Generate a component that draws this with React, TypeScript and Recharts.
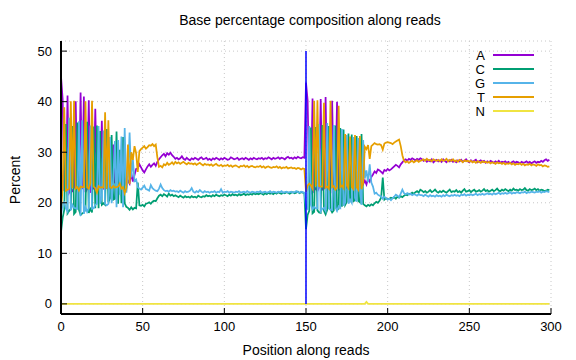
import React from 'react';
import { LineChart, Line, XAxis, YAxis, CartesianGrid, ReferenceLine, Legend } from 'recharts';

// Percent of each base per cycle. Read 1 = cycles 0-149, read 2 = 150-299.
const A_READ1 = [
  45.0, 40.5, 22.4, 23.1, 41.2, 22.0, 22.6, 22.3, 23.0, 40.1,
  22.2, 22.9, 41.8, 22.7, 41.0, 22.1, 22.8, 40.3, 22.0, 22.9,
  22.8, 38.6, 22.9, 22.6, 23.0, 36.2, 22.8, 22.7, 23.1, 23.8,
  23.0, 23.8, 31.5, 24.0, 23.7, 24.6, 24.1, 24.2, 24.8, 23.4,
  25.3, 24.4, 23.8, 25.9, 24.2, 25.5, 26.7, 26.8, 27.6, 27.0,
  26.4, 26.0, 26.6, 27.2, 27.6, 27.1, 27.5, 27.8, 27.3, 28.1,
  28.6, 29.0, 29.4, 29.7, 29.2, 29.8, 29.5, 29.9, 29.4, 29.1,
  28.7, 28.9, 28.6, 28.8, 29.2, 28.7, 28.5, 28.9, 28.6, 28.4,
  28.8, 28.6, 28.9, 28.7, 28.5, 28.8, 29.0, 28.6, 28.7, 28.9,
  28.5, 28.7, 28.4, 28.8, 28.6, 28.9, 28.7, 28.5, 28.8, 28.6,
  28.9, 28.7, 28.5, 28.6, 29.0, 28.8, 28.6, 28.7, 28.9, 28.5,
  28.7, 28.8, 28.6, 28.9, 28.7, 28.5, 28.8, 28.6, 28.9, 28.7,
  28.6, 28.8, 28.7, 28.9, 28.6, 28.8, 28.7, 29.0, 28.8, 28.6,
  28.9, 28.7, 28.8, 29.0, 28.7, 28.9, 28.8, 28.6, 28.9, 29.1,
  28.8, 28.9, 28.7, 29.0, 28.8, 29.1, 28.9, 28.8, 29.0, 28.9,
];
const A_READ2 = [
  43.8, 40.2, 22.6, 22.1, 40.6, 22.4, 22.9, 22.3, 23.0, 40.5,
  22.6, 22.8, 40.9, 22.4, 23.1, 22.5, 40.2, 22.8, 23.0, 40.0,
  22.7, 23.1, 22.8, 23.2, 23.4, 23.0, 23.6, 23.9, 23.4, 24.0,
  23.8, 23.5, 24.2, 23.3, 24.1, 23.7, 24.4, 23.6, 24.8, 24.2,
  25.1, 25.6, 26.2, 25.9, 26.6, 26.4, 26.1, 25.8, 26.5, 26.3,
  26.7, 26.4, 26.6, 26.9, 27.2, 27.5, 27.3, 27.0, 27.6, 28.0,
  28.4, 28.6, 28.3, 28.7, 28.5, 28.8, 28.6, 28.4, 28.7, 28.5,
  28.8, 28.6, 28.3, 28.5, 28.1, 28.4, 28.2, 28.6, 28.0, 28.3,
  28.5, 28.2, 28.4, 28.1, 28.6, 28.3, 28.0, 28.4, 28.2, 28.5,
  28.1, 28.3, 28.0, 28.4, 28.2, 28.5, 28.1, 28.3, 28.6, 28.2,
  28.0, 28.4, 28.1, 28.3, 28.5, 28.0, 28.2, 28.4, 28.1, 28.3,
  27.9, 28.2, 28.0, 28.3, 28.1, 27.9, 28.2, 28.0, 28.3, 27.9,
  28.1, 28.0, 28.2, 27.9, 28.1, 27.8, 28.0, 28.2, 27.9, 28.1,
  28.0, 27.8, 28.1, 27.9, 28.0, 28.2, 27.9, 28.1, 27.8, 28.0,
  28.2, 27.9, 28.1, 28.0, 28.3, 28.1, 28.4, 28.6, 28.3, 28.5,
];

const C_READ1 = [
  14.2, 17.0, 18.6, 35.6, 17.9, 18.4, 18.8, 35.2, 17.8, 18.2,
  35.9, 18.6, 17.6, 17.9, 18.1, 18.7, 36.0, 18.0, 18.8, 18.1,
  35.1, 18.9, 35.3, 18.9, 34.2, 19.6, 19.9, 19.6, 34.6, 20.1,
  20.9, 33.4, 20.6, 20.8, 34.1, 19.8, 30.5, 19.9, 33.0, 19.9,
  19.2, 19.0, 18.6, 19.1, 18.7, 19.0, 18.9, 24.0, 19.5, 19.4,
  19.6, 19.3, 19.8, 19.9, 20.1, 19.8, 20.2, 20.4, 20.3, 20.9,
  21.4, 21.6, 21.3, 21.7, 21.5, 21.2, 21.8, 21.4, 21.6, 21.3,
  21.5, 21.3, 21.1, 21.4, 21.2, 21.0, 21.3, 21.1, 21.2, 21.0,
  21.3, 21.1, 21.2, 21.0, 21.4, 21.2, 21.1, 21.3, 21.2, 21.5,
  21.3, 21.4, 21.2, 21.5, 21.3, 21.6, 21.4, 21.3, 21.5, 21.4,
  21.6, 21.5, 21.3, 21.6, 21.4, 21.7, 21.5, 21.6, 21.4, 21.7,
  21.5, 21.6, 21.8, 21.5, 21.7, 21.6, 21.8, 21.6, 21.9, 21.7,
  21.8, 21.7, 21.9, 21.8, 21.6, 21.9, 21.7, 22.0, 21.8, 21.9,
  21.7, 22.0, 21.8, 22.1, 21.9, 21.8, 22.0, 21.9, 22.1, 22.0,
  21.8, 22.0, 22.1, 21.9, 22.0, 22.2, 21.9, 22.1, 22.0, 21.9,
];
const C_READ2 = [
  14.8, 17.6, 18.4, 34.9, 17.9, 18.2, 35.0, 18.5, 18.1, 18.0,
  35.4, 18.4, 17.7, 18.6, 35.2, 18.7, 18.1, 18.5, 35.3, 18.6,
  18.8, 34.8, 19.2, 34.5, 19.6, 20.2, 33.7, 20.1, 33.5, 20.3,
  20.5, 33.2, 20.4, 20.1, 33.6, 19.8, 19.5, 19.3, 19.6, 19.4,
  19.7, 19.5, 19.9, 20.2, 20.0, 20.4, 21.0, 25.0, 20.6, 20.9,
  20.7, 20.8, 21.0, 20.9, 21.1, 20.8, 21.2, 21.0, 21.3, 21.1,
  21.4, 21.6, 21.5, 21.8, 21.7, 22.0, 21.8, 22.1, 22.3, 22.0,
  22.6, 22.4, 22.1, 22.3, 22.0, 22.2, 22.5, 22.1, 22.3, 22.6,
  22.2, 22.0, 22.3, 22.1, 22.4, 22.2, 22.0, 22.3, 22.6, 22.1,
  22.3, 22.2, 22.5, 22.1, 22.3, 22.0, 22.4, 22.7, 22.2, 22.3,
  22.5, 22.1, 22.4, 22.6, 22.2, 22.3, 22.5, 22.2, 22.4, 22.7,
  22.3, 22.5, 22.2, 22.4, 22.6, 22.3, 22.5, 22.8, 22.4, 22.3,
  22.6, 22.4, 22.7, 22.5, 22.3, 22.6, 22.4, 22.8, 22.5, 22.6,
  22.4, 22.7, 22.5, 22.6, 22.9, 22.5, 22.4, 22.7, 22.5, 22.6,
  22.8, 22.5, 22.7, 22.4, 22.6, 22.5, 22.3, 22.4, 22.6, 22.5,
];

const G_READ1 = [
  17.5, 19.8, 20.1, 18.9, 18.3, 36.8, 18.5, 19.6, 19.0, 18.9,
  18.8, 36.1, 17.4, 36.3, 17.8, 19.1, 18.2, 18.9, 35.3, 18.8,
  18.9, 19.6, 19.8, 35.2, 19.8, 21.1, 34.3, 19.8, 19.5, 19.8,
  33.0, 19.9, 24.6, 32.2, 19.1, 32.4, 21.6, 33.1, 19.1, 34.8,
  22.0, 25.1, 33.9, 25.0, 28.6, 24.3, 24.6, 23.1, 22.8, 22.6,
  23.0, 23.4, 22.7, 22.6, 22.4, 23.5, 22.9, 22.6, 22.4, 22.3,
  22.8, 23.6, 22.9, 22.5, 22.3, 22.4, 22.2, 22.5, 22.3, 22.4,
  22.2, 22.3, 22.1, 22.4, 22.2, 22.0, 22.3, 22.1, 22.2, 22.4,
  22.9, 22.2, 22.0, 22.3, 22.1, 22.5, 22.2, 22.0, 22.3, 22.1,
  22.2, 22.0, 22.2, 22.1, 22.3, 22.0, 22.2, 22.1, 22.7, 22.0,
  22.2, 22.1, 22.3, 22.0, 22.2, 22.1, 22.0, 22.2, 22.1, 22.3,
  22.0, 22.1, 22.2, 22.0, 22.3, 22.1, 22.0, 22.2, 22.1, 22.0,
  22.2, 22.1, 22.3, 22.0, 22.1, 22.2, 22.0, 22.1, 22.3, 22.0,
  22.2, 22.1, 22.0, 22.2, 22.1, 22.3, 22.0, 22.1, 22.2, 22.0,
  22.1, 22.2, 22.0, 22.1, 22.3, 22.1, 22.0, 22.2, 22.1, 22.0,
];
const G_READ2 = [
  19.2, 18.8, 35.2, 19.6, 18.7, 19.2, 18.9, 18.9, 35.6, 18.3,
  18.8, 19.0, 18.4, 35.8, 18.9, 18.6, 18.6, 35.4, 19.1, 18.4,
  19.3, 19.0, 34.6, 19.4, 20.1, 33.4, 19.8, 20.6, 20.0, 33.0,
  21.0, 20.2, 32.8, 23.1, 19.6, 32.4, 24.8, 26.4, 24.1, 27.6,
  24.0, 23.2, 21.8, 22.0, 21.6, 21.4, 21.3, 20.8, 21.2, 20.9,
  20.6, 20.8, 20.5, 20.9, 21.2, 21.6, 21.4, 21.1, 21.8, 22.6,
  21.9, 21.7, 21.9, 21.6, 21.8, 21.5, 21.7, 21.6, 21.4, 21.7,
  21.5, 21.5, 21.3, 21.6, 21.4, 21.2, 21.5, 21.3, 21.4, 21.2,
  21.5, 21.3, 21.4, 21.2, 21.5, 21.3, 21.6, 21.4, 21.3, 21.5,
  21.4, 21.6, 21.4, 21.5, 21.3, 21.6, 21.5, 21.7, 21.4, 21.6,
  21.5, 21.7, 21.5, 21.6, 21.8, 21.5, 21.7, 21.6, 21.8, 21.6,
  21.7, 21.9, 21.7, 21.8, 21.6, 21.9, 21.7, 21.8, 22.0, 21.7,
  21.9, 21.8, 22.0, 21.8, 21.9, 22.1, 21.8, 22.0, 21.9, 22.1,
  22.0, 21.9, 22.1, 22.0, 22.2, 21.9, 22.1, 22.0, 22.2, 22.1,
  22.0, 22.2, 22.1, 22.3, 22.0, 22.2, 22.1, 22.3, 22.2, 22.1,
];

const T_READ1 = [
  18.8, 22.7, 38.9, 22.4, 22.6, 22.8, 40.1, 22.9, 40.2, 22.8,
  23.1, 22.4, 23.2, 23.1, 23.1, 40.1, 23.0, 22.8, 23.9, 40.2,
  23.2, 22.9, 22.0, 23.3, 23.0, 23.1, 23.0, 37.9, 22.8, 36.3,
  23.1, 22.9, 23.3, 23.0, 23.1, 23.2, 23.8, 22.8, 23.1, 21.9,
  22.9, 31.5, 23.7, 30.0, 28.5, 31.2, 29.8, 26.1, 30.2, 30.6,
  30.9, 31.2, 30.7, 31.0, 31.4, 31.3, 31.6, 31.2, 31.5, 29.0,
  27.1, 27.3, 27.0, 27.6, 27.4, 27.9, 27.5, 27.7, 28.0, 27.6,
  28.1, 27.8, 28.0, 27.7, 27.9, 28.1, 27.8, 27.6, 27.9, 27.7,
  27.8, 27.6, 27.8, 27.5, 27.7, 27.9, 27.6, 27.4, 27.7, 27.5,
  27.6, 27.4, 27.6, 27.3, 27.5, 27.7, 27.4, 27.3, 27.5, 27.2,
  27.4, 27.3, 27.5, 27.2, 27.4, 27.1, 27.3, 27.4, 27.2, 27.0,
  27.3, 27.2, 27.4, 27.1, 27.3, 27.0, 27.2, 27.3, 27.1, 27.0,
  27.2, 27.1, 27.3, 27.0, 27.2, 26.9, 27.1, 27.2, 27.0, 26.9,
  27.1, 27.0, 27.2, 26.9, 27.1, 26.8, 27.0, 26.9, 27.1, 26.8,
  26.9, 27.0, 26.8, 26.9, 26.7, 26.9, 26.8, 26.6, 26.8, 26.7,
];
const T_READ2 = [
  22.2, 23.4, 23.8, 23.4, 22.8, 40.2, 23.2, 40.3, 23.3, 23.2,
  23.2, 39.8, 23.0, 23.2, 22.8, 40.2, 23.1, 23.3, 22.6, 23.0,
  39.2, 23.1, 23.4, 22.9, 33.6, 23.4, 22.9, 33.1, 23.1, 22.7,
  33.4, 23.1, 22.6, 33.2, 22.7, 23.9, 31.1, 30.6, 31.4, 28.7,
  31.2, 31.5, 31.8, 31.6, 31.5, 31.6, 31.4, 30.5, 31.7, 31.9,
  32.0, 31.9, 31.8, 31.6, 31.9, 32.1, 32.3, 32.5, 31.2, 29.4,
  28.3, 28.0, 28.2, 27.9, 28.1, 28.3, 28.0, 28.2, 28.4, 28.1,
  28.3, 28.4, 28.6, 28.3, 28.7, 28.4, 28.5, 28.2, 28.6, 28.4,
  28.3, 28.5, 28.2, 28.6, 28.3, 28.4, 28.7, 28.2, 28.5, 28.3,
  28.6, 28.2, 28.4, 28.1, 28.5, 28.3, 28.0, 28.4, 28.2, 28.3,
  28.1, 28.3, 28.0, 28.2, 27.9, 28.2, 28.1, 27.9, 28.2, 28.0,
  28.1, 27.9, 28.1, 27.8, 28.0, 27.9, 27.7, 28.0, 27.8, 27.9,
  27.7, 27.9, 27.6, 27.8, 27.7, 27.9, 27.6, 27.8, 27.5, 27.7,
  27.6, 27.8, 27.5, 27.7, 27.4, 27.6, 27.5, 27.7, 27.4, 27.6,
  27.5, 27.3, 27.6, 27.4, 27.5, 27.2, 27.4, 27.3, 27.1, 27.2,
];

const N_READ1 = [
  0, 0, 0, 0, 0, 0, 0, 0, 0, 0, 0, 0, 0, 0, 0, 0, 0, 0, 0, 0, 0, 0, 0, 0, 0,
  0, 0, 0, 0, 0, 0, 0, 0, 0, 0, 0, 0, 0, 0, 0, 0, 0, 0, 0, 0, 0, 0, 0, 0, 0,
  0, 0, 0, 0, 0, 0, 0, 0, 0, 0, 0, 0, 0, 0, 0, 0, 0, 0, 0, 0, 0, 0, 0, 0, 0,
  0, 0, 0, 0, 0, 0, 0, 0, 0, 0, 0, 0, 0, 0, 0, 0, 0, 0, 0, 0, 0, 0, 0, 0, 0,
  0, 0, 0, 0, 0, 0, 0, 0, 0, 0, 0, 0, 0, 0, 0, 0, 0, 0, 0, 0, 0, 0, 0, 0, 0,
  0, 0, 0, 0, 0, 0, 0, 0, 0, 0, 0, 0, 0, 0, 0, 0, 0, 0, 0, 0, 0, 0, 0, 0, 0,
];
const N_READ2 = [
  0, 0, 0, 0, 0, 0, 0, 0, 0, 0, 0, 0, 0, 0, 0, 0, 0, 0, 0, 0, 0, 0, 0, 0, 0,
  0, 0, 0, 0, 0, 0, 0, 0, 0, 0, 0, 0, 0.4, 0, 0, 0, 0, 0, 0, 0, 0, 0, 0, 0, 0,
  0, 0, 0, 0, 0, 0, 0, 0, 0, 0, 0, 0, 0, 0, 0, 0, 0, 0, 0, 0, 0, 0, 0, 0, 0,
  0, 0, 0, 0, 0, 0, 0, 0, 0, 0, 0, 0, 0, 0, 0, 0, 0, 0, 0, 0, 0, 0, 0, 0, 0,
  0, 0, 0, 0, 0, 0, 0, 0, 0, 0, 0, 0, 0, 0, 0, 0, 0, 0, 0, 0, 0, 0, 0, 0, 0,
  0, 0, 0, 0, 0, 0, 0, 0, 0, 0, 0, 0, 0, 0, 0, 0, 0, 0, 0, 0, 0, 0, 0, 0, 0,
];

const BASES = ['A', 'C', 'G', 'T', 'N'];
const X_TICKS = [0, 50, 100, 150, 200, 250, 300];
const Y_TICKS = [0, 10, 20, 30, 40, 50];
const READ_BOUNDARY = 150;

const A_PCT = [...A_READ1, ...A_READ2];
const C_PCT = [...C_READ1, ...C_READ2];
const G_PCT = [...G_READ1, ...G_READ2];
const T_PCT = [...T_READ1, ...T_READ2];
const N_PCT = [...N_READ1, ...N_READ2];

const data = A_PCT.map((a, i) => ({
  pos: i,
  A: a,
  C: C_PCT[i],
  G: G_PCT[i],
  T: T_PCT[i],
  N: N_PCT[i],
}));

const FONT = '"Liberation Sans", Arial, Helvetica, sans-serif';
const tickStyle = { fontFamily: FONT, fontSize: 13, fill: '#000' };

const BottomTick = ({ x, y, payload }: any) => (
  <g>
    <line x1={x} y1={y} x2={x} y2={y - 6} stroke="#000" />
    <text x={x} y={y + 17} textAnchor="middle" style={tickStyle}>{payload.value}</text>
  </g>
);
const TopTick = ({ x, y }: any) => <line x1={x} y1={y} x2={x} y2={y + 6} stroke="#000" />;
const LeftTick = ({ x, y, payload }: any) => (
  <g>
    <line x1={x} y1={y} x2={x + 6} y2={y} stroke="#000" />
    <text x={x - 9} y={y + 4.5} textAnchor="end" style={tickStyle}>{payload.value}</text>
  </g>
);
const RightTick = ({ x, y }: any) => <line x1={x} y1={y} x2={x - 6} y2={y} stroke="#000" />;

// gnuplot style key: label right aligned, then a short line sample
const LegendBox = ({ payload }: any) => {
  const items = [...(payload || [])].sort(
    (a: any, b: any) => BASES.indexOf(a.value) - BASES.indexOf(b.value)
  );
  return (
    <div style={{ fontFamily: FONT, fontSize: 13, color: '#000' }}>
      {items.map((entry: any) => (
        <div key={entry.value} style={{ display: 'flex', alignItems: 'center', height: 14 }}>
          <span style={{ width: 25, textAlign: 'right', lineHeight: '13px' }}>{entry.value}</span>
          <span style={{ marginLeft: 8, width: 41, height: 2, background: entry.color }} />
        </div>
      ))}
    </div>
  );
};

const border = { stroke: '#000', strokeWidth: 2 };

export default function App() {
  return (
    <div style={{ position: 'absolute', left: 0, top: 0, width: 576, height: 360, background: '#fff' }}>
      <LineChart width={576} height={360} data={data} margin={{ top: 41, right: 25, bottom: 16, left: 11 }}>
        <CartesianGrid stroke="#c8c8c8" strokeDasharray="1 3" />
        <XAxis
          dataKey="pos"
          type="number"
          domain={[0, 300]}
          ticks={X_TICKS}
          interval={0}
          allowDataOverflow
          height={30}
          tickSize={0}
          tickMargin={0}
          tickLine={false}
          axisLine={border}
          tick={BottomTick}
        />
        <XAxis
          xAxisId="top"
          orientation="top"
          type="number"
          domain={[0, 300]}
          ticks={X_TICKS}
          interval={0}
          allowDataOverflow
          height={0}
          tickSize={0}
          tickMargin={0}
          tickLine={false}
          axisLine={border}
          tick={TopTick}
        />
        <YAxis
          type="number"
          domain={[-2, 52]}
          ticks={Y_TICKS}
          interval={0}
          allowDataOverflow
          width={50}
          tickSize={0}
          tickMargin={0}
          tickLine={false}
          axisLine={border}
          tick={LeftTick}
        />
        <YAxis
          yAxisId="right"
          orientation="right"
          type="number"
          domain={[-2, 52]}
          ticks={Y_TICKS}
          interval={0}
          allowDataOverflow
          width={0}
          tickSize={0}
          tickMargin={0}
          tickLine={false}
          axisLine={border}
          tick={RightTick}
        />
        <Line type="linear" dataKey="A" name="A" stroke="#9400d3" strokeWidth={1.75} dot={false} isAnimationActive={false} />
        <Line type="linear" dataKey="C" name="C" stroke="#009e73" strokeWidth={1.75} dot={false} isAnimationActive={false} />
        <Line type="linear" dataKey="G" name="G" stroke="#56b4e9" strokeWidth={1.75} dot={false} isAnimationActive={false} />
        <Line type="linear" dataKey="T" name="T" stroke="#e69f00" strokeWidth={1.75} dot={false} isAnimationActive={false} />
        <Line type="linear" dataKey="N" name="N" stroke="#f0e442" strokeWidth={1.75} dot={false} isAnimationActive={false} />
        <ReferenceLine
          segment={[{ x: READ_BOUNDARY, y: 0 }, { x: READ_BOUNDARY, y: 50 }]}
          stroke="#0000ff"
          strokeWidth={1.5}
        />
        <Legend
          layout="horizontal"
          verticalAlign="middle"
          align="center"
          content={<LegendBox />}
          wrapperStyle={{ top: 48, left: 460, width: 90, height: 72 }}
        />
      </LineChart>
      <div style={{ position: 'absolute', left: 110, top: 12, width: 400, textAlign: 'center', fontFamily: FONT, fontSize: 14, lineHeight: '16px' }}>
        Base percentage composition along reads
      </div>
      <div style={{ position: 'absolute', left: 156, top: 342, width: 300, textAlign: 'center', fontFamily: FONT, fontSize: 14, lineHeight: '16px' }}>
        Position along reads
      </div>
      <div style={{ position: 'absolute', left: -35, top: 172, width: 100, textAlign: 'center', fontFamily: FONT, fontSize: 14, lineHeight: '16px', transform: 'rotate(-90deg)' }}>
        Percent
      </div>
    </div>
  );
}
